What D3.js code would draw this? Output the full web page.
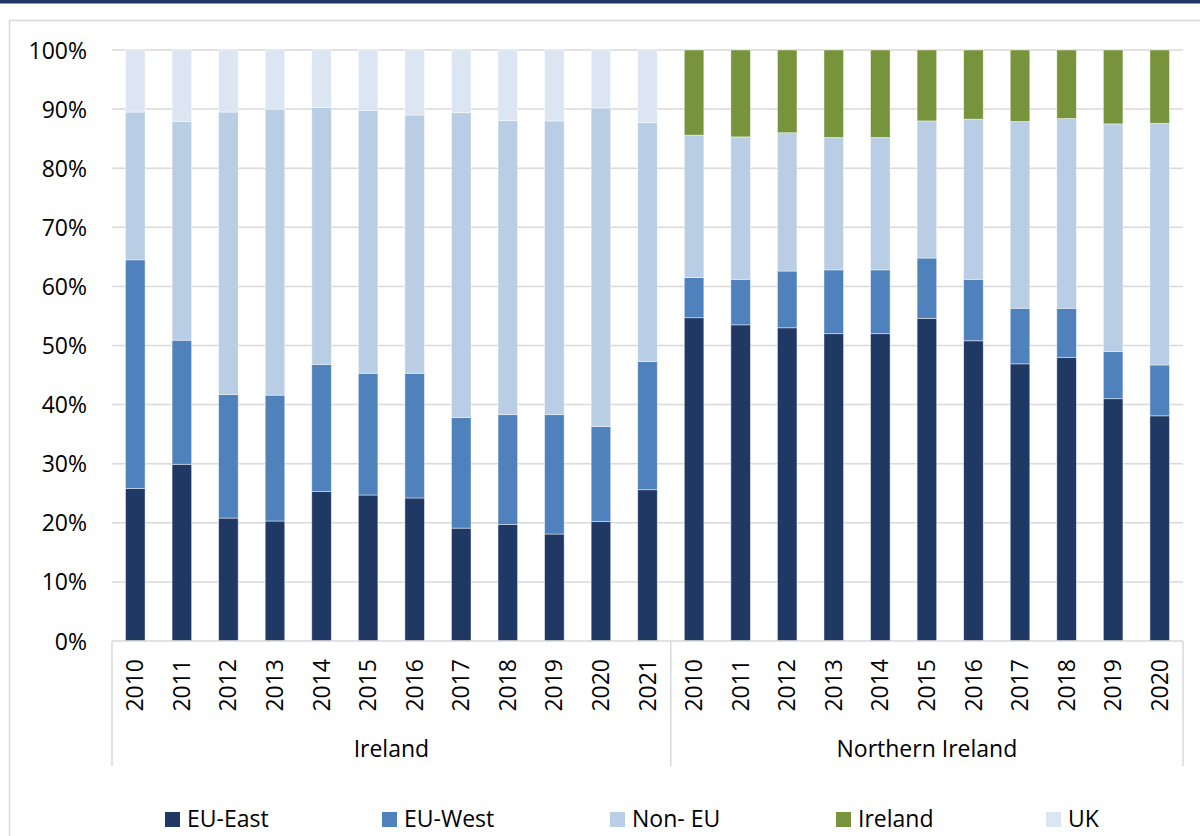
<!DOCTYPE html>
<html>
<head>
<meta charset="utf-8">
<script src="https://cdn.jsdelivr.net/npm/d3@7"></script>
<style>
  html, body { margin: 0; padding: 0; background: #fff; }
  svg { display: block; }
  text { font-family: "Open Sans", "Noto Sans", sans-serif; fill: #000; }
</style>
</head>
<body>
<svg id="chart" width="1200" height="836"></svg>
<script>
// ---- data ----
const groups = ["Ireland", "Northern Ireland"];
const irelandYears = ["2010","2011","2012","2013","2014","2015","2016","2017","2018","2019","2020","2021"];
const niYears = ["2010","2011","2012","2013","2014","2015","2016","2017","2018","2019","2020"];
const seriesNames = ["EU-East", "EU-West", "Non- EU", "Ireland", "UK"];
const seriesColors = ["#203864", "#4f81bd", "#b9cde5", "#77933c", "#dce6f2"];
// shares (%) for Ireland 2010-2021 then Northern Ireland 2010-2020
const euEast = [25.8,29.9,20.8,20.3,25.3,24.7,24.2,19.1,19.7,18.1,20.2,25.6, 54.7,53.5,53.0,52.0,52.0,54.6,50.8,46.9,48.0,41.0,38.1];
const euWest = [38.7,21.0,20.9,21.3,21.5,20.6,21.1,18.7,18.6,20.2,16.1,21.7, 6.8,7.7,9.6,10.8,10.8,10.2,10.4,9.4,8.3,8.0,8.6];
const nonEU  = [25.0,37.0,47.8,48.4,43.5,44.5,43.7,51.6,49.8,49.7,53.9,40.4, 24.1,24.1,23.4,22.4,22.4,23.2,27.1,31.6,32.1,38.5,40.9];
const irelandShare = [0,0,0,0,0,0,0,0,0,0,0,0, 14.4,14.7,14.0,14.8,14.8,12.0,11.7,12.1,11.6,12.5,12.4];
const ukShare = [10.5,12.1,10.5,10.0,9.7,10.2,11.0,10.6,11.9,12.0,9.8,12.3, 0,0,0,0,0,0,0,0,0,0,0];
const yTicks = [0,10,20,30,40,50,60,70,80,90,100];

// ---- build table ----
const cats = [];
irelandYears.forEach(y => cats.push({group: groups[0], year: y}));
niYears.forEach(y => cats.push({group: groups[1], year: y}));
const seriesArrays = [euEast, euWest, nonEU, irelandShare, ukShare];
const table = cats.map((c, i) => {
  const row = {key: c.group + "|" + c.year, group: c.group, year: c.year};
  seriesNames.forEach((s, j) => row[s] = seriesArrays[j][i]);
  return row;
});

const svg = d3.select("#chart");
const FS = 23;

// frame
svg.append("rect").attr("x", 0).attr("y", 0).attr("width", 1200).attr("height", 3.5).attr("fill", "#1f3864");
svg.append("rect").attr("x", 9.5).attr("y", 20.5).attr("width", 1200).attr("height", 830)
  .attr("fill", "none").attr("stroke", "#d9d9d9").attr("stroke-width", 1.5);

const plotL = 112, plotR = 1183, plotT = 50, plotB = 641;
const x = d3.scaleBand().domain(table.map(d => d.key)).range([plotL, plotR]).paddingInner(0.58).paddingOuter(0.29);
const y = d3.scaleLinear().domain([0, 100]).range([plotB, plotT]);

// gridlines
svg.append("g").selectAll("line").data(yTicks.filter(t => t > 0)).join("line")
  .attr("x1", plotL).attr("x2", plotR)
  .attr("y1", d => y(d)).attr("y2", d => y(d))
  .attr("stroke", "#d9d9d9").attr("stroke-width", 1.5);

// y axis
const yAxis = svg.append("g").attr("transform", `translate(${87},0)`)
  .call(d3.axisLeft(y).tickValues(yTicks).tickFormat(d => d + "%").tickSize(0).tickPadding(0));
yAxis.select(".domain").remove();
yAxis.selectAll("text").attr("font-size", FS).attr("font-family", "'Open Sans', sans-serif").attr("fill", "#000").attr("dy", "0.35em");

// stacked bars
const stack = d3.stack().keys(seriesNames)(table);
svg.append("g").selectAll("g").data(stack).join("g")
  .attr("fill", (d, i) => seriesColors[i])
  .selectAll("rect").data(d => d).join("rect")
  .attr("x", d => x(d.data.key))
  .attr("width", x.bandwidth())
  .attr("y", d => y(d[1]))
  .attr("height", d => Math.max(0, y(d[0]) - y(d[1])))
  .attr("stroke", "rgba(255,255,255,0.55)").attr("stroke-width", 0.8);

// x axis line
svg.append("line").attr("x1", plotL).attr("x2", plotR).attr("y1", plotB).attr("y2", plotB)
  .attr("stroke", "#d9d9d9").attr("stroke-width", 1.5);

// year labels via axis
const xAxis = svg.append("g").attr("transform", `translate(0,${plotB})`)
  .call(d3.axisBottom(x).tickSize(0).tickFormat(k => k.split("|")[1]));
xAxis.select(".domain").remove();
xAxis.selectAll("text")
  .attr("font-size", FS).attr("font-family", "'Open Sans', sans-serif").attr("fill", "#000")
  .attr("transform", "rotate(-90)")
  .attr("text-anchor", "end")
  .attr("x", -18).attr("y", 0).attr("dy", "0.35em");

// group separators and labels
const groupBounds = groups.map(g => {
  const keys = table.filter(d => d.group === g).map(d => d.key);
  const step = x.step();
  const x0 = x(keys[0]) - (step - x.bandwidth()) / 2;
  const x1 = x(keys[keys.length - 1]) + x.bandwidth() + (step - x.bandwidth()) / 2;
  return {g, x0, x1};
});
const seps = [groupBounds[0].x0, groupBounds[0].x1, groupBounds[1].x1];
svg.append("g").selectAll("line").data(seps).join("line")
  .attr("x1", d => d).attr("x2", d => d).attr("y1", plotB).attr("y2", 766)
  .attr("stroke", "#d9d9d9").attr("stroke-width", 1.5);
svg.append("g").selectAll("text").data(groupBounds).join("text")
  .attr("x", d => (d.x0 + d.x1) / 2).attr("y", 757)
  .attr("text-anchor", "middle").attr("font-size", FS)
  .text(d => d.g);

// legend
const legendX = [165, 382, 610, 836, 1046];
const lg = svg.append("g").selectAll("g").data(seriesNames).join("g")
  .attr("transform", (d, i) => `translate(${legendX[i]},812)`);
lg.append("rect").attr("width", 15).attr("height", 15).attr("fill", (d, i) => seriesColors[i]);
lg.append("text").attr("x", 22).attr("y", 15).attr("font-size", FS).text(d => d);
</script>
</body>
</html>
